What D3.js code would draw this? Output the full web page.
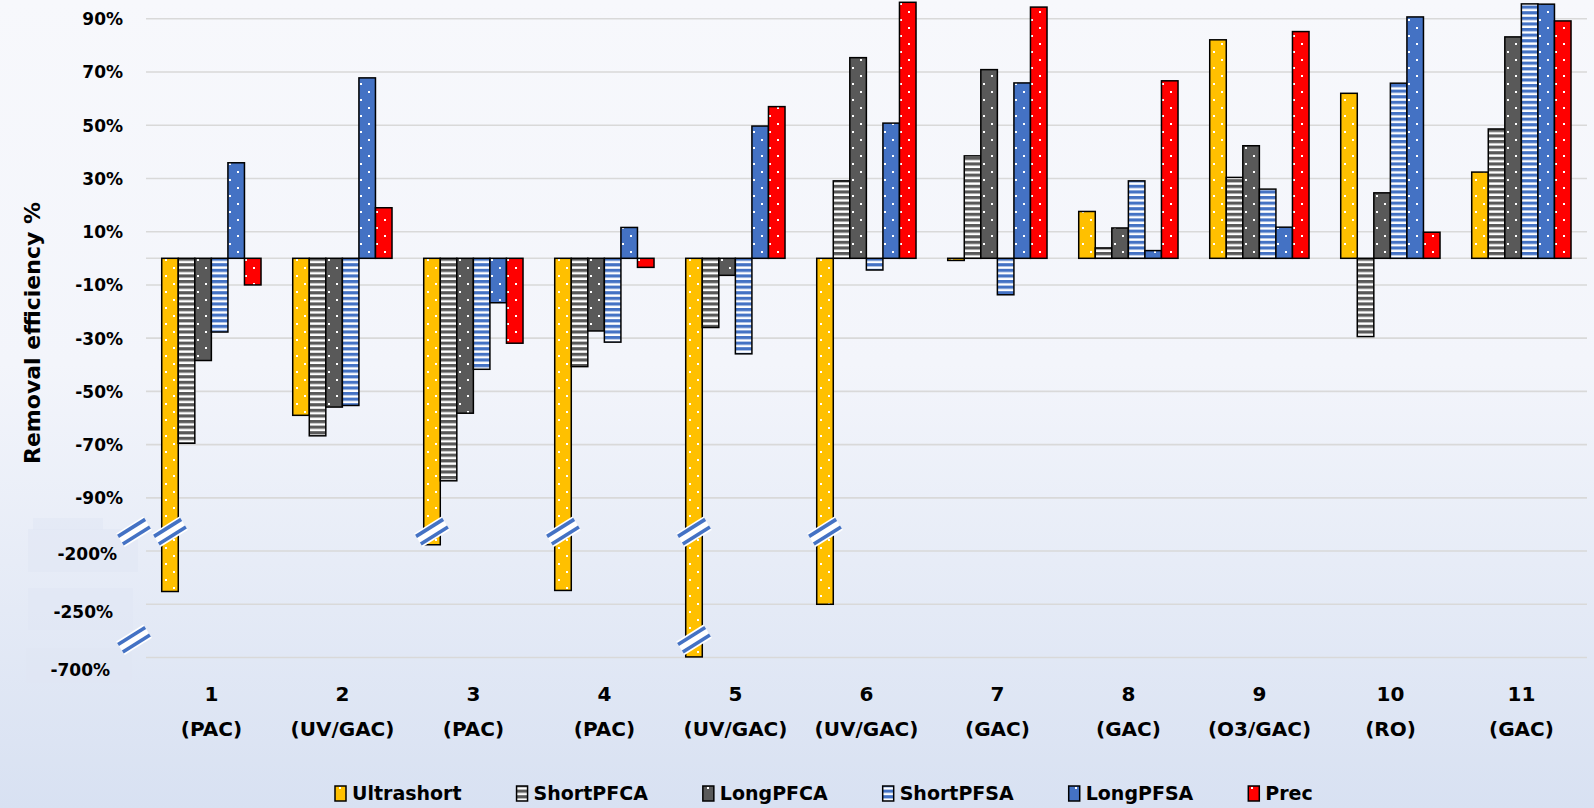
<!DOCTYPE html>
<html><head><meta charset="utf-8">
<script src="https://cdn.jsdelivr.net/npm/d3@7"></script>
<style>html,body{margin:0;padding:0;overflow:hidden;background:#fff}</style>
</head><body>
<svg id="chart" width="1594" height="808"></svg>
<script>
// ---------- data ----------
const groups = ["1","2","3","4","5","6","7","8","9","10","11"];
const methods = ["(PAC)","(UV/GAC)","(PAC)","(PAC)","(UV/GAC)","(UV/GAC)","(GAC)","(GAC)","(O3/GAC)","(RO)","(GAC)"];
const seriesNames = ["Ultrashort","ShortPFCA","LongPFCA","ShortPFSA","LongPFSA","Prec"];
const ultrashort = [-238,-59,-187,-237,-695,-250,-0.8,17.6,82.1,62,32.4];
const shortPFCA  = [-69.5,-66.7,-83.6,-40.7,-26,29.1,38.5,3.9,30.4,-29.4,48.6];
const longPFCA   = [-38.4,-55.9,-58.2,-27.3,-6.4,75.4,70.9,11.4,42.3,24.6,83.2];
const shortPFSA  = [-27.7,-55.3,-41.7,-31.5,-35.9,-4.4,-13.7,29.1,26,65.8,95.6];
const longPFSA   = [35.9,67.8,-16.7,11.6,49.7,50.8,65.9,2.9,11.7,90.7,95.5];
const prec       = [-10,19,-31.9,-3.4,57,96.2,94.4,66.7,85.2,9.8,89.2];
const tickValues = [90,70,50,30,10,-10,-30,-50,-70,-90,-200,-250,-700];
// broken-axis segments: real value -> evenly spaced slot
const breakDomain = [-700,-250,-200,-90,90];
const axisBreaks = [-160,-550];

const seriesValues = [ultrashort, shortPFCA, longPFCA, shortPFSA, longPFSA, prec];

// ---------- layout ----------
const W = 1594, H = 808;
const plotL = 146, plotR = 1587, plotT = 18.8, plotB = 657.5;
const svg = d3.select("#chart");
const defs = svg.append("defs");

// background gradient
const bg = defs.append("linearGradient").attr("id","bg").attr("x1",0).attr("y1",0).attr("x2",0).attr("y2",1);
bg.append("stop").attr("offset","0").attr("stop-color","#f7f8fc");
bg.append("stop").attr("offset","0.45").attr("stop-color","#f3f5fb");
bg.append("stop").attr("offset","1").attr("stop-color","#d8e1f2");
svg.append("rect").attr("width",W).attr("height",H).attr("fill","url(#bg)");

// patterns
const colors = {Ultrashort:"#FFC000",ShortPFCA:"#595959",LongPFCA:"#595959",ShortPFSA:"#4472C4",LongPFSA:"#4472C4",Prec:"#FF0000"};
const striped = {ShortPFCA:true, ShortPFSA:true};
seriesNames.forEach((s,i)=>{
  if (striped[s]) {
    const p = defs.append("pattern").attr("id","pat"+i).attr("patternUnits","userSpaceOnUse")
      .attr("width",16).attr("height",5.6);
    p.append("rect").attr("width",16).attr("height",5.6).attr("fill","#fff");
    p.append("rect").attr("y",0).attr("width",16).attr("height",3.2).attr("fill",colors[s]);
  } else {
    const p = defs.append("pattern").attr("id","pat"+i).attr("patternUnits","userSpaceOnUse")
      .attr("width",16).attr("height",16);
    p.append("rect").attr("width",16).attr("height",16).attr("fill",colors[s]);
    p.append("rect").attr("x",3).attr("y",3).attr("width",2).attr("height",2).attr("fill","#fff");
    p.append("rect").attr("x",11).attr("y",11).attr("width",2).attr("height",2).attr("fill","#fff");
  }
});

// scales
const slot = v => plotT + (90 - v) / 240 * (plotB - plotT); // evenly spaced slot positions
const y = d3.scaleLinear().domain(breakDomain)
  .range([slot(-150), slot(-130), slot(-110), slot(-90), slot(90)]);
const x0 = d3.scaleBand().domain(groups).range([plotL, plotR]).padding(0);
const bw = x0.bandwidth();
const x1 = d3.scaleBand().domain(seriesNames).range([bw*0.12, bw*0.878]).padding(0);

// gridlines
svg.append("g").selectAll("line").data(tickValues.concat([0])).join("line")
  .attr("x1",plotL).attr("x2",plotR)
  .attr("y1",d=>y(d)).attr("y2",d=>y(d))
  .attr("stroke","#d9d9d9").attr("stroke-width",1.6);

// special label background boxes
const boxes = [[28,529,110,43],[33,518,70,12],[28,588,105,42],[26,648,106,35]];
svg.append("g").selectAll("rect").data(boxes).join("rect")
  .attr("x",d=>d[0]).attr("y",d=>d[1]).attr("width",d=>d[2]).attr("height",d=>d[3])
  .attr("fill","#dfe6f3").attr("opacity",0.5);

// y axis (labels only)
const labelShift = {"-200":[-6,2],"-250":[-10,7],"-700":[-13,12]};
const yAxis = d3.axisLeft(y).tickValues(tickValues).tickSize(0).tickPadding(0)
  .tickFormat(d=>d+"%");
const ya = svg.append("g").attr("transform",`translate(123,0)`).call(yAxis);
ya.select(".domain").remove();
ya.selectAll("text")
  .attr("font-family","DejaVu Sans").attr("font-weight","bold").attr("font-size",17).attr("fill","#000")
  .attr("dy","0.35em")
  .attr("transform",d=>{const s=labelShift[d]; return s?`translate(${s[0]},${s[1]})`:null;});

// bars
const gGroups = svg.append("g").selectAll("g").data(groups).join("g")
  .attr("transform",d=>`translate(${x0(d)},0)`);
gGroups.selectAll("rect").data((g,gi)=>seriesNames.map((s,si)=>({s,si,v:seriesValues[si][gi]}))).join("rect")
  .attr("x",d=>x1(d.s)).attr("width",x1.bandwidth())
  .attr("y",d=>Math.min(y(d.v),y(0)))
  .attr("height",d=>Math.max(Math.abs(y(d.v)-y(0)),1.2))
  .attr("fill",d=>`url(#pat${d.si})`)
  .attr("stroke","#000").attr("stroke-width",1.5);

// break symbols
function breakMark(cx, cy){
  const g = svg.append("g").attr("transform",`translate(${cx},${cy}) rotate(-32)`);
  g.append("rect").attr("x",-16).attr("y",-8).attr("width",32).attr("height",16).attr("fill","#fff");
  [-4.5,4.5].forEach(o=>g.append("line").attr("x1",-16).attr("x2",16).attr("y1",o).attr("y2",o)
    .attr("stroke","#4472C4").attr("stroke-width",3.6));
}
axisBreaks.forEach(b=>breakMark(plotL-12, y(b)));
groups.forEach((g,gi)=>{
  seriesNames.forEach((s,si)=>{
    const v = seriesValues[si][gi];
    axisBreaks.forEach(b=>{ if (v < b) breakMark(x0(g)+x1(s)+x1.bandwidth()/2, y(b)); });
  });
});

// category labels
const cat = svg.append("g");
groups.forEach((g,i)=>{
  const cx = x0(g)+bw/2;
  cat.append("text").attr("x",cx).attr("y",701).attr("text-anchor","middle")
    .attr("font-family","DejaVu Sans").attr("font-weight","bold").attr("font-size",20).text(g);
  cat.append("text").attr("x",cx).attr("y",736).attr("text-anchor","middle")
    .attr("font-family","DejaVu Sans").attr("font-weight","bold").attr("font-size",20).text(methods[i]);
});

// y title
svg.append("text").attr("transform","translate(40,333) rotate(-90)").attr("text-anchor","middle")
  .attr("font-family","DejaVu Sans").attr("font-weight","bold").attr("font-size",22).text("Removal efficiency %");

// legend
const leg = svg.append("g");
let lx = 335;
seriesNames.forEach((s,i)=>{
  leg.append("rect").attr("x",lx).attr("y",786).attr("width",11).attr("height",15)
    .attr("fill",`url(#pat${i})`).attr("stroke","#000").attr("stroke-width",1.5);
  const t = leg.append("text").attr("x",lx+17).attr("y",800)
    .attr("font-family","DejaVu Sans").attr("font-weight","bold").attr("font-size",19).text(s);
  lx += 17 + t.node().getComputedTextLength() + 55;
});
</script>
</body></html>
